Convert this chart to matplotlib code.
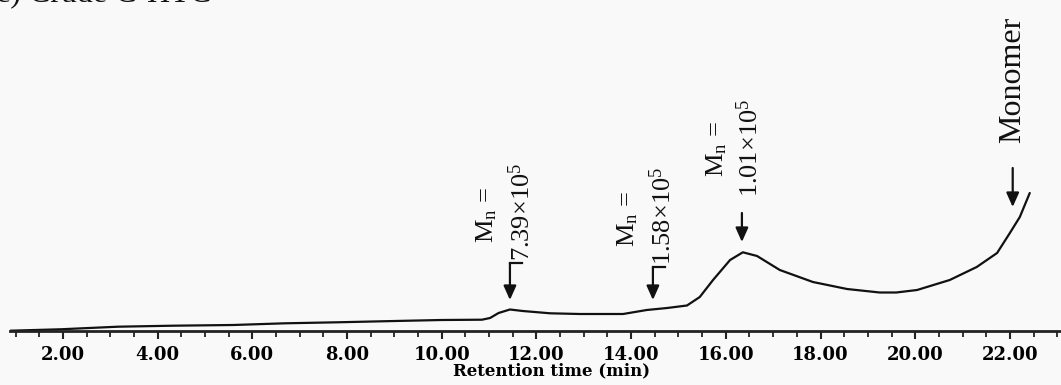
import matplotlib
matplotlib.use("Agg")
import matplotlib.pyplot as plt

# ---- data ----
time_min = [0.88, 1.94, 3.16, 4.32, 5.59, 6.69, 7.79, 9.01, 10.00, 10.85, 11.02,
            11.20, 11.44, 11.71, 12.29, 12.92, 13.83, 14.33, 14.76, 15.18, 15.45,
            15.73, 16.09, 16.36, 16.66, 17.14, 17.84, 18.56, 19.25, 19.60, 20.04,
            20.73, 21.30, 21.73, 22.00, 22.21, 22.42]
signal = [0.3, 1.7, 4.3, 5.3, 6.0, 7.7, 8.7, 10.0, 11.0, 11.3, 13.0,
          18.0, 21.5, 20.0, 17.7, 17.0, 17.0, 21.0, 23.0, 25.5, 34.0,
          51.0, 71.0, 78.7, 75.0, 61.0, 49.0, 42.0, 38.5, 38.5, 41.0,
          51.0, 64.0, 78.0, 98.0, 114.0, 138.0]

major_ticks = [2, 4, 6, 8, 10, 12, 14, 16, 18, 20, 22]
tick_labels = ["2.00", "4.00", "6.00", "8.00", "10.00", "12.00", "14.00",
               "16.00", "18.00", "20.00", "22.00"]

# annotation: arrow x, arrow tip, arrow top, label lines
ann_x = [11.44, 14.46, 16.34]
ann_tip = [31, 31, 89]
ann_top = [68, 64, 118]
ann_line1_x = [10.95, 13.93, 15.81]
ann_line1_y = [88, 84, 154]
ann_line2_x = [11.69, 14.67, 16.51]
ann_line2_y = [70, 66, 134]
ann_values = ["7.39", "1.58", "1.01"]

mono_x = 22.06
mono_tip = 124
mono_top = 163
mono_label_y = 191

plt.rcParams['mathtext.fontset'] = 'custom'
plt.rcParams['mathtext.rm'] = 'Liberation Serif'
plt.rcParams['mathtext.it'] = 'Liberation Serif:italic'
plt.rcParams['mathtext.bf'] = 'Liberation Serif:bold'

bg = '#f9f9f9'
fig = plt.figure(figsize=(10.61, 3.85), dpi=100, facecolor=bg)
ax = fig.add_axes([10 / 1061, 54 / 385, 1 - 10 / 1061, 331 / 385])
ax.set_facecolor(bg)

ax.plot(time_min, signal, color='#111111', lw=1.6, solid_capstyle='round')

ax.set_xlim(0.88, 23.08)
ax.set_ylim(0, 331)

for s in ['top', 'right', 'left']:
    ax.spines[s].set_visible(False)
ax.spines['bottom'].set_linewidth(2.0)
ax.spines['bottom'].set_color('#222222')
ax.set_yticks([])

ax.set_xticks(major_ticks)
ax.set_xticklabels(tick_labels, fontfamily='DejaVu Serif', fontweight='bold',
                   fontsize=13)
ax.set_xticks([t / 2 for t in range(2, 47)], minor=True)
ax.tick_params(axis='x', which='major', length=6, width=1.5, color='#222222',
               pad=5)
ax.tick_params(axis='x', which='minor', length=4, width=1.3, color='#222222')
ax.set_xlabel("Retention time (min)", fontfamily='DejaVu Serif',
              fontweight='bold', fontsize=12, labelpad=2)
ax.xaxis.set_label_coords(0.515, -0.095)

txt_kw = dict(rotation=90, ha='center', va='bottom', fontfamily='Liberation Serif',
              fontsize=19, color='#111111')
arrow_kw = dict(arrowstyle='-|>,head_width=0.38,head_length=0.85',
                color='#111111', lw=1.6, shrinkA=0, shrinkB=0)

for i in range(len(ann_x)):
    ax.annotate('', xy=(ann_x[i], ann_tip[i]), xytext=(ann_x[i], ann_top[i]),
                arrowprops=arrow_kw)
    if i < 2:
        ax.plot([ann_x[i], ann_x[i] + 0.25], [ann_top[i], ann_top[i]],
                color='#111111', lw=1.6)
    ax.text(ann_line1_x[i], ann_line1_y[i], r"$\mathrm{M_n}$ =", **txt_kw)
    ax.text(ann_line2_x[i], ann_line2_y[i], ann_values[i] + r"×10$^{5}$", **txt_kw)

ax.annotate('', xy=(mono_x, mono_tip), xytext=(mono_x, mono_top),
            arrowprops=arrow_kw)
mono_kw = dict(txt_kw)
mono_kw['fontsize'] = 23
ax.text(mono_x, mono_label_y - 3, "Monomer", **mono_kw)

fig.text(-0.004, 1.0 - 2 / 385, "c) Crude C-HTC", ha='left', va='baseline',
         fontfamily='Liberation Serif', fontsize=23, color='#111111')

fig.savefig("out.png", dpi=100, facecolor=bg)
